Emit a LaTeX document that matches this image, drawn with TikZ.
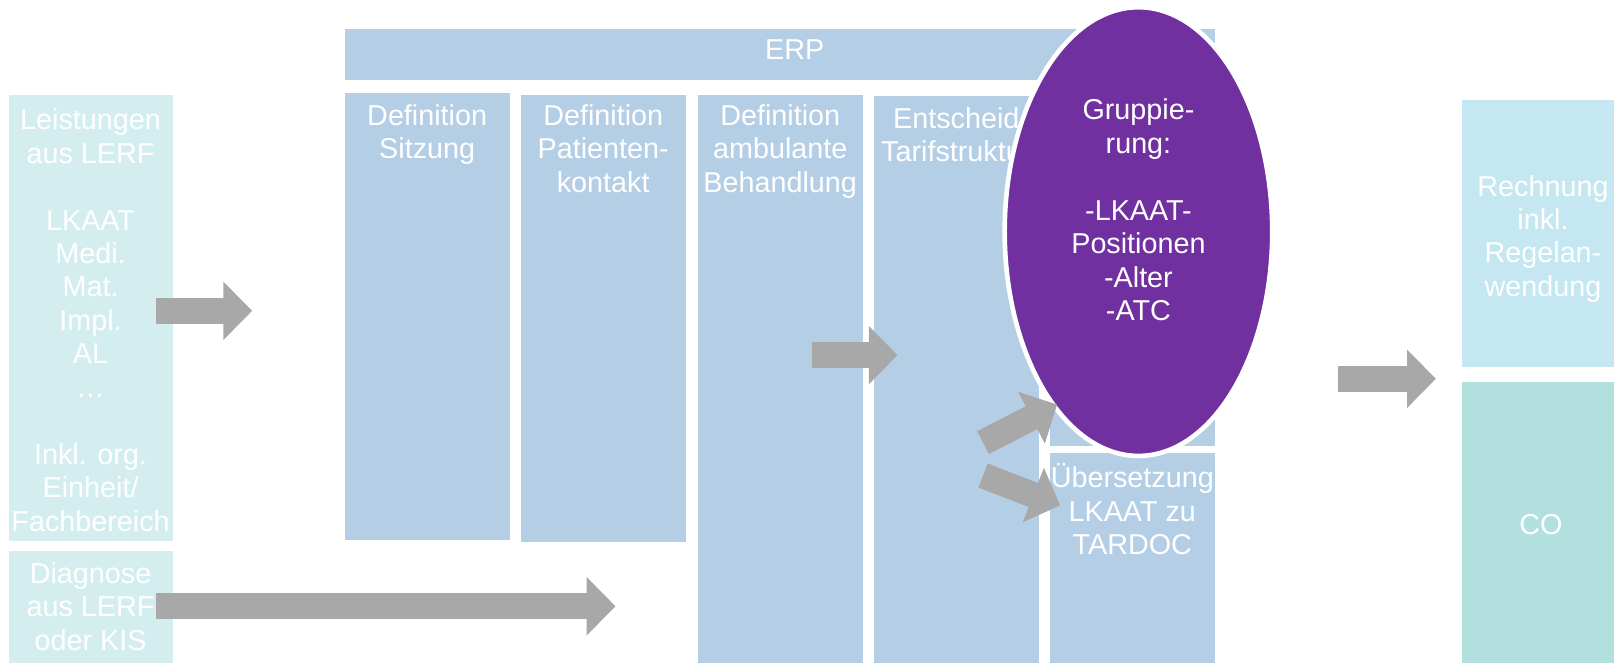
\documentclass[tikz,border=0pt]{standalone}
\usepackage{fontspec}
\setmainfont{Liberation Sans}
\usetikzlibrary{arrows.meta,shapes.geometric}
\definecolor{erpblue}{HTML}{B4CEE6}
\definecolor{lerfcyan}{HTML}{D4EEF0}
\definecolor{rechblue}{HTML}{C4E7F1}
\definecolor{coteal}{HTML}{B1E0DF}
\definecolor{gruppviolett}{HTML}{7030A0}
\definecolor{pfeilgrau}{HTML}{A8A8A8}

\begin{document}
\begin{tikzpicture}[
  x = 0.02cm, y = -0.02cm,
  every node/.style = {font=\fontsize{15.9}{18.5}\selectfont, text=white, align=center, inner sep=0pt},
  box/.style = {fill=#1, anchor=north west, minimum width=3.2cm},
  txt/.style = {anchor=north},
  flow/.style = {pfeilgrau, line width=0.5cm, -{Triangle[length=0.56cm, width=1.1cm]}}
  ]
  \useasboundingbox (0,0) rectangle (1568,644);
  % linke Spalte
  \node[box=lerfcyan, minimum height=8.66cm] (lerf) at (8,92) {};
  \node (lerftxt) at (88,311) {Leistungen\\aus LERF\\[18.5pt]LKAAT\\Medi.\\Mat.\\Impl.\\AL\\…\\[18.5pt]Inkl. org.\\Einheit/\\Fachbereich};
  \node[box=lerfcyan, minimum height=2.18cm] (diag) at (8,535) {};
  \node[txt] (diagtxt) at (88,546) {Diagnose\\aus LERF\\oder KIS};
  % ERP
  \node[box=erpblue, minimum width=16.9cm, minimum height=0.98cm] (erp) at (335,28) {};
  \node (erptxt) at (772,48) {ERP};
  \node[box=erpblue, minimum height=8.68cm] (sitzung) at (335,90) {};
  \node[txt] (sitzungtxt) at (415,101) {Definition\\Sitzung};
  \node[box=erpblue, minimum height=8.68cm] (kontakt) at (506,92) {};
  \node[txt] (kontakttxt) at (586,101) {Definition\\Patienten-\\kontakt};
  \node[box=erpblue, minimum height=11.04cm] (ambulant) at (678,92) {};
  \node[txt] (ambulanttxt) at (758,101) {Definition\\ambulante\\Behandlung};
  \node[box=erpblue, minimum height=11.02cm] (tarif) at (849,93) {};
  \node[txt] (tariftxt) at (929,104) {Entscheid\\Tarifstruktur};
  \node[box=erpblue, minimum height=6.8cm] (gruppbox) at (1020,93) {};
  \node[box=erpblue, minimum height=4.08cm] (uebers) at (1020,440) {};
  \node[txt] (uebertxt) at (1100,450) {Übersetzung\\LKAAT zu\\TARDOC};
  % Gruppierung
  \node[ellipse, fill=gruppviolett, draw=white, line width=0.09cm,
    minimum width=5.2cm, minimum height=8.72cm] (grupp) at (1106,225) {};
  \node (grupptxt) at (1106,204) {Gruppie-\\rung:\\[18.5pt]-LKAAT-\\Positionen\\-Alter\\-ATC};
  % rechte Spalte
  \node[box=rechblue, minimum width=2.96cm, minimum height=5.18cm] (rechnung) at (1420,97) {};
  \node (rechtxt) at (1499,232) {Rechnung\\inkl.\\Regelan-\\wendung};
  \node[box=coteal, minimum width=2.96cm, minimum height=5.46cm] (co) at (1420,371) {};
  \node (cotxt) at (1497,510) {CO};
  % Pfeile
  \coordinate (p1a) at (152,302);  \coordinate (p1b) at (245,302);
  \coordinate (p2a) at (152,589);  \coordinate (p2b) at (598,589);
  \coordinate (p3a) at (789,345);  \coordinate (p3b) at (872,345);
  \coordinate (p4a) at (1300,368); \coordinate (p4b) at (1395,368);
  \coordinate (p5a) at (955,430);  \coordinate (p5b) at (1027,393);
  \coordinate (p6a) at (955,462);  \coordinate (p6b) at (1030,491);
  \draw[flow] (p1a) -- (p1b);
  \draw[flow] (p2a) -- (p2b);
  \draw[flow] (p3a) -- (p3b);
  \draw[flow] (p4a) -- (p4b);
  \draw[flow] (p5a) -- (p5b);
  \draw[flow] (p6a) -- (p6b);
\end{tikzpicture}
\end{document}
